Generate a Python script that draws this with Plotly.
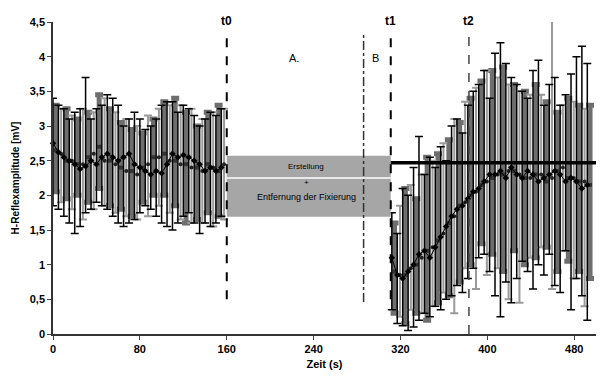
import plotly.graph_objects as go

# ---------------- data ----------------
# Phase 1 (0-160 s)
x_b1 = [0,5,10,15,20,25,30,35,40,45,50,55,60,65,70,75,80,85,90,95,100,105,110,115,120,125,130,135,140,145,150,155]
mean_b1 = [2.75,2.62,2.55,2.5,2.45,2.38,2.42,2.5,2.45,2.55,2.6,2.55,2.5,2.55,2.6,2.45,2.4,2.35,2.3,2.35,2.32,2.45,2.6,2.55,2.58,2.55,2.5,2.45,2.35,2.4,2.35,2.4]
upper_b1 = [3.4,3.3,3.25,3.1,3.2,3.25,3.7,3.1,3.25,3.3,3.45,3.4,3.3,3.0,3.1,3.2,3.1,2.95,3.0,3.1,3.3,3.35,3.35,3.2,3.3,3.25,3.15,3.0,3.1,3.2,3.15,3.25]
lower_b1 = [1.85,1.8,1.7,1.6,1.45,1.55,1.75,1.8,1.9,1.85,1.8,1.7,1.6,1.55,1.6,1.65,1.75,1.85,1.8,1.7,1.6,1.55,1.5,1.6,1.7,1.75,1.6,1.45,1.6,1.55,1.6,1.7]

x_d1 = [2.5,12.5,22.5,32.5,42.5,52.5,62.5,72.5,82.5,92.5,102.5,112.5,122.5,132.5,142.5,152.5]
mean_d1 = [2.65,2.5,2.45,2.55,2.7,2.5,2.4,2.35,2.4,2.55,2.6,2.5,2.45,2.4,2.45,2.35]
upper_d1 = [3.3,3.25,3.1,3.2,3.45,3.25,3.05,2.95,2.9,3.1,3.35,3.4,3.2,3.0,3.2,3.3]
lower_d1 = [2.05,1.95,2.0,1.9,2.1,1.85,1.8,1.7,1.9,2.0,2.0,1.85,1.6,1.65,1.75,1.7]

x_l1 = [7.5,17.5,27.5,37.5,47.5,57.5,67.5,77.5,87.5,97.5,107.5,117.5,127.5,137.5,147.5,157.5]
mean_l1 = [2.6,2.5,2.45,2.6,2.5,2.45,2.35,2.3,2.45,2.55,2.5,2.45,2.4,2.35,2.4,2.45]
upper_l1 = [3.25,3.15,3.25,3.2,3.4,3.2,3.1,3.0,3.15,3.25,3.3,3.3,3.25,3.1,3.2,3.25]
lower_l1 = [1.9,1.8,1.65,1.8,1.85,1.75,1.7,1.65,1.7,1.85,1.75,1.65,1.6,1.6,1.55,1.65]

# Phase 2 (after t1)
x_b2 = [312,317,322,327,332,337,342,347,352,357,362,367,372,377,382,387,392,397,402,407,412,417,422,427,432,437,442,447,452,457,462,467,472,477,482,487,492]
mean_b2 = [1.1,0.85,0.8,0.9,1.0,1.15,1.2,1.1,1.25,1.4,1.55,1.7,1.8,1.85,1.95,2.05,2.1,2.2,2.3,2.3,2.35,2.25,2.4,2.3,2.25,2.35,2.3,2.2,2.25,2.3,2.35,2.3,2.2,2.25,2.2,2.1,2.15]
upper_b2 = [1.75,1.45,2.1,2.0,2.4,2.85,2.3,2.55,2.4,2.7,2.5,3.0,3.1,2.9,3.3,3.5,3.6,3.8,3.4,4.05,4.2,3.9,3.7,3.6,3.5,3.4,3.8,3.95,3.3,3.6,3.7,3.3,3.45,3.75,4.0,4.15,3.9]
lower_b2 = [0.35,0.15,0.12,0.05,0.1,0.2,0.3,0.25,0.4,0.35,0.5,0.55,0.7,0.6,0.8,0.95,1.1,1.15,0.9,0.55,0.25,0.75,0.45,0.8,1.05,0.9,0.65,1.0,0.85,1.15,0.7,0.6,1.2,0.35,0.8,0.55,0.2]

x_d2 = [314.5,324.5,334.5,344.5,354.5,364.5,374.5,384.5,394.5,404.5,414.5,424.5,434.5,444.5,454.5,464.5,474.5,484.5,494.5]
mean_d2 = [0.9,0.85,1.0,1.2,1.35,1.6,1.85,2.0,2.15,2.25,2.3,2.35,2.25,2.3,2.2,2.35,2.25,2.2,2.15]
upper_d2 = [1.6,2.1,1.95,2.55,2.6,2.8,3.05,3.4,3.65,3.8,3.85,3.6,3.5,3.6,3.35,3.2,3.4,3.3,3.3]
lower_d2 = [0.3,0.15,0.3,0.2,0.45,0.55,0.75,1.0,1.3,1.15,0.9,1.2,1.0,1.1,1.25,0.9,1.05,0.9,0.8]

x_l2 = [319.5,329.5,339.5,349.5,359.5,369.5,379.5,389.5,399.5,409.5,419.5,429.5,439.5,449.5,459.5,469.5,479.5,489.5]
mean_l2 = [0.85,0.95,1.1,1.25,1.45,1.7,1.9,2.05,2.2,2.3,2.35,2.3,2.25,2.3,2.25,2.4,2.25,2.2]
upper_l2 = [1.85,2.15,2.3,2.5,2.75,3.1,3.35,3.55,3.8,3.7,3.6,3.5,3.45,3.45,4.55,3.3,3.35,3.25]
lower_l2 = [0.25,0.35,0.3,0.4,0.6,0.3,0.95,0.65,0.85,0.95,0.5,0.45,1.1,1.25,0.65,1.2,0.8,0.4]

# markers / events
t_events = [160, 311, 383]
t_labels = ["t0", "t1", "t2"]
b_line_x = 286
plateau_y = 2.47
box_x = [160, 311]
box_y = [1.69, 2.57]
box_mid_y = 2.25

yticks = [0, 0.5, 1, 1.5, 2, 2.5, 3, 3.5, 4, 4.5]
yticktext = ["0", "0,5", "1", "1,5", "2", "2,5", "3", "3,5", "4", "4,5"]
xticks = [0, 80, 160, 240, 320, 400, 480]
xticktext = ["0", "80", "160", "240", "320", "400", "480"]

FONT = "Liberation Sans, Arial, sans-serif"

fig = go.Figure()


def add_series(x, m, up, lo, color, thick, mcolor, mode, symbol, msize, lwidth=1):
    fig.add_trace(go.Scatter(
        x=x, y=m, mode=mode,
        line=dict(color=mcolor, width=lwidth),
        marker=dict(color=mcolor, symbol=symbol, size=msize),
        error_y=dict(type="data", symmetric=False,
                     array=[u - v for u, v in zip(up, m)],
                     arrayminus=[v - l for v, l in zip(m, lo)],
                     color=color, thickness=thick, width=4),
        showlegend=False, cliponaxis=False))


# dark grey wide columns
add_series(x_d1, mean_d1, upper_d1, lower_d1, "#6e6e6e", 5, "#333333", "markers", "square", 4)
add_series(x_d2, mean_d2, upper_d2, lower_d2, "#6e6e6e", 5, "#333333", "markers", "square", 4)
# light grey
add_series(x_l1, mean_l1, upper_l1, lower_l1, "#9a9a9a", 2, "#222222", "markers", "circle", 4)
add_series(x_l2, mean_l2, upper_l2, lower_l2, "#9a9a9a", 2, "#222222", "markers", "circle", 4)
# black
add_series(x_b1, mean_b1, upper_b1, lower_b1, "#000000", 1.5, "#000000", "lines+markers", "diamond", 5, 1)
add_series(x_b2, mean_b2, upper_b2, lower_b2, "#000000", 1.5, "#000000", "lines+markers", "diamond", 5, 1)

shapes = []
# grey box
shapes.append(dict(type="rect", xref="x", yref="y", x0=box_x[0], x1=box_x[1], y0=box_y[0], y1=box_y[1],
                   fillcolor="#a6a6a6", line=dict(width=0), layer="above"))
shapes.append(dict(type="line", xref="x", yref="y", x0=box_x[0], x1=box_x[1], y0=box_mid_y, y1=box_mid_y,
                   line=dict(color="white", width=1.5), layer="above"))
# event lines
shapes.append(dict(type="line", xref="x", yref="y", x0=t_events[0], x1=t_events[0], y0=0.5, y1=4.34,
                   line=dict(color="black", width=2, dash="dash"), layer="above"))
shapes.append(dict(type="line", xref="x", yref="y", x0=b_line_x, x1=b_line_x, y0=0.46, y1=4.34,
                   line=dict(color="#333333", width=1.5, dash="dashdot"), layer="above"))
shapes.append(dict(type="line", xref="x", yref="y", x0=t_events[1], x1=t_events[1], y0=0.5, y1=4.34,
                   line=dict(color="black", width=2, dash="dash"), layer="above"))
shapes.append(dict(type="line", xref="x", yref="y", x0=t_events[2], x1=t_events[2], y0=0, y1=4.34,
                   line=dict(color="#444444", width=1.5, dash="dash"), layer="above"))
# plateau line
shapes.append(dict(type="line", xref="x", yref="y", x0=t_events[1], x1=500, y0=plateau_y, y1=plateau_y,
                   line=dict(color="black", width=3.5), layer="above"))

annotations = []
for tx, tl in zip(t_events, t_labels):
    annotations.append(dict(x=tx, y=1.0, xref="x", yref="paper", yanchor="bottom", yshift=-8,
                            text="<b>" + tl + "</b>", showarrow=False,
                            font=dict(family=FONT, size=12, color="black")))
annotations.append(dict(x=222, y=3.98, xref="x", yref="y", text="A.", showarrow=False,
                        font=dict(family=FONT, size=11, color="black")))
annotations.append(dict(x=297, y=3.98, xref="x", yref="y", text="B", showarrow=False,
                        font=dict(family=FONT, size=11, color="black")))
annotations.append(dict(x=233, y=2.42, xref="x", yref="y", text="Erstellung", showarrow=False,
                        font=dict(family=FONT, size=8, color="black")))
annotations.append(dict(x=233, y=2.19, xref="x", yref="y", text="+", showarrow=False,
                        font=dict(family=FONT, size=8, color="black")))
annotations.append(dict(x=233, y=1.98, xref="x", yref="y", text="Entfernung der Fixierung", showarrow=False,
                        font=dict(family=FONT, size=9, color="black")))

fig.update_layout(
    width=602, height=381,
    margin=dict(l=53, r=6, t=22, b=47, autoexpand=False),
    paper_bgcolor="white", plot_bgcolor="white",
    font=dict(family=FONT, size=11, color="black"),
    shapes=shapes, annotations=annotations,
    xaxis=dict(range=[0, 500], tickvals=xticks, ticktext=["<b>" + t + "</b>" for t in xticktext],
               ticks="outside", ticklen=4, tickwidth=1, automargin=False,
               showline=True, linecolor="#333333", linewidth=1.5, showgrid=False, zeroline=False,
               tickfont=dict(family=FONT, size=11, color="black"),
               title=dict(text="<b>Zeit (s)</b>", font=dict(family=FONT, size=11), standoff=6)),
    yaxis=dict(range=[0, 4.5], tickvals=yticks, ticktext=["<b>" + t + "</b>" for t in yticktext],
               ticks="outside", ticklen=4, tickwidth=1,
               automargin=False,
               showline=True, linecolor="#333333", linewidth=1.5, showgrid=False, zeroline=False,
               tickfont=dict(family=FONT, size=11, color="black"),
               title=dict(text="<b>H-Reflexamplitude [mV]</b>", font=dict(family=FONT, size=10), standoff=8)),
)

fig.write_html("out.html", config={"displayModeBar": False},
               post_script="document.body.style.margin='0px';")
